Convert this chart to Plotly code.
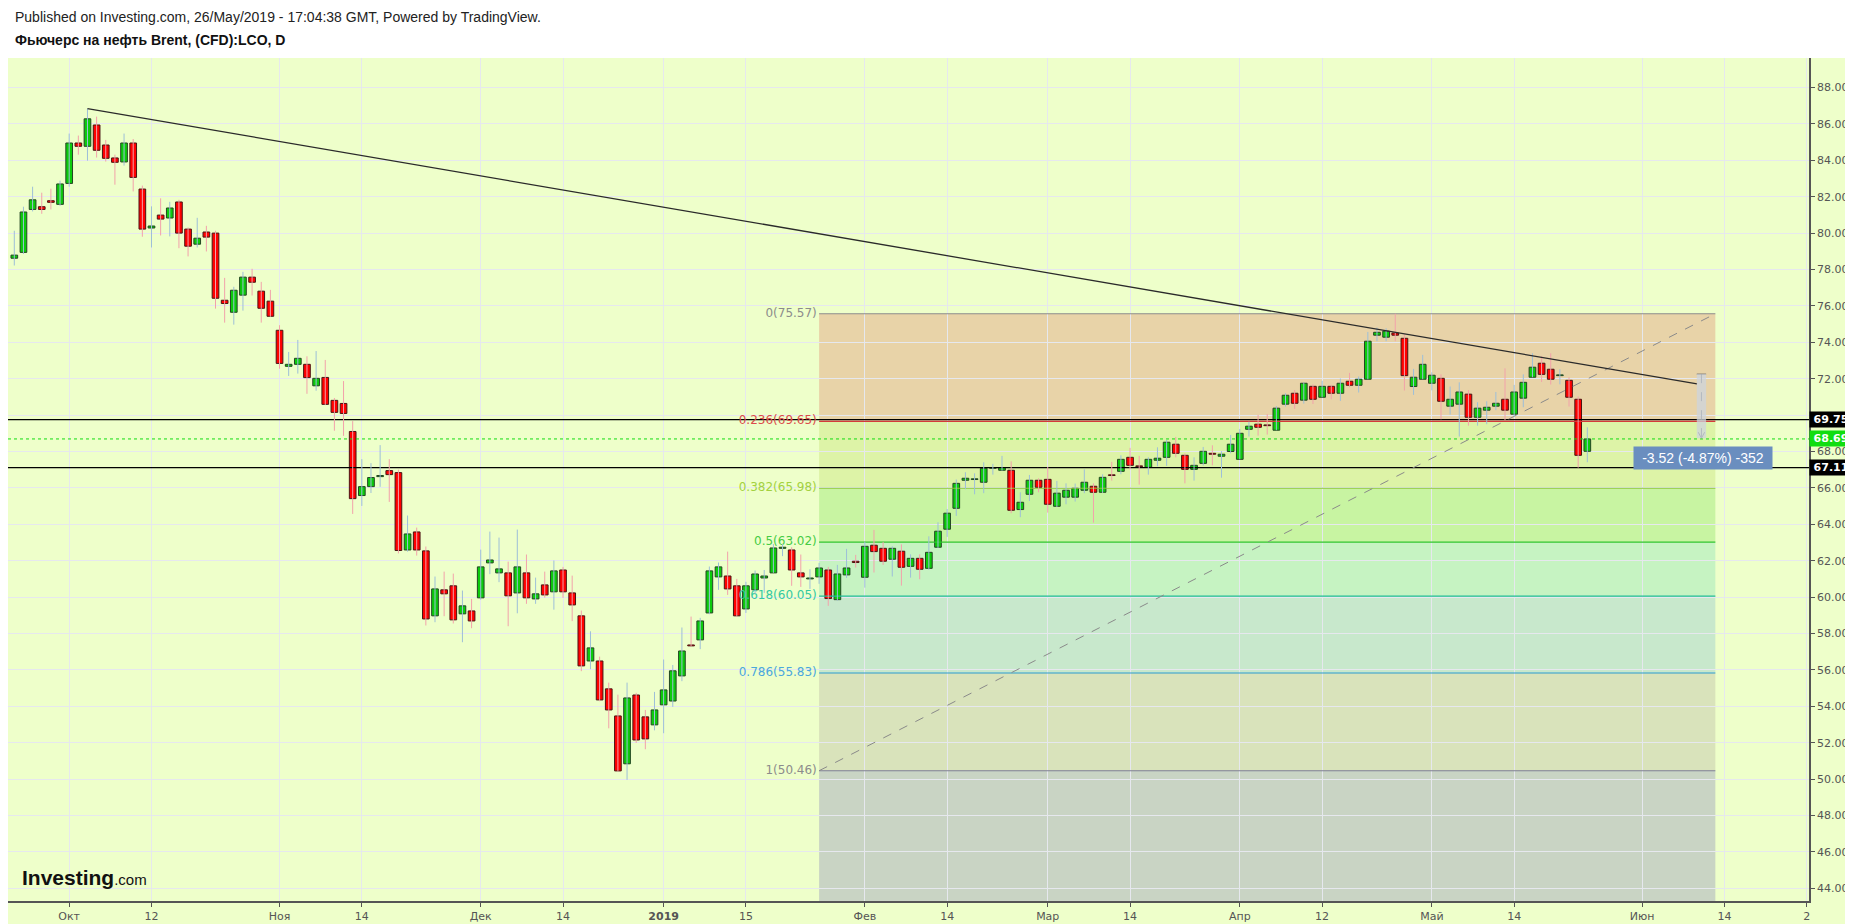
import plotly.graph_objects as go

# ---------------- data (trading-day index 0 = 21 Sep 2018) ----------------
opens = [78.62, 78.94, 81.30, 81.45, 81.78, 81.58, 82.73, 84.95, 84.77, 85.94,
         84.84, 84.13, 83.91, 84.95, 82.42, 80.28, 80.99, 80.83, 81.71, 80.22,
         79.39, 80.06, 80.00, 76.31, 75.65, 76.59, 77.58, 76.81, 76.26, 74.66,
         72.68, 72.79, 72.79, 71.61, 72.07, 70.81, 70.64, 69.10, 65.58, 66.07,
         66.62, 66.95, 66.84, 62.59, 63.58, 62.54, 58.97, 60.40, 60.62, 59.08,
         59.24, 59.96, 61.88, 61.33, 61.33, 60.23, 61.33, 59.90, 60.67, 60.29,
         61.49, 60.23, 58.97, 56.49, 56.49, 54.96, 53.47, 50.84, 54.62, 53.42,
         52.98, 54.08, 54.29, 55.67, 57.37, 57.65, 59.13, 61.11, 61.16, 60.62,
         59.35, 60.40, 61.05, 61.33, 62.68, 62.59, 61.33, 61.00, 61.11, 61.49,
         59.86, 61.22, 61.97, 61.09, 62.85, 62.68, 62.08, 62.52, 61.69, 62.13,
         61.58, 62.74, 63.73, 64.88, 66.42, 66.46, 66.31, 67.08, 66.97, 66.97,
         64.81, 65.65, 66.42, 66.47, 64.99, 65.49, 65.49, 65.87, 66.09, 65.76,
         66.71, 66.91, 67.68, 67.21, 67.13, 67.52, 67.68, 68.40, 67.79, 67.02,
         67.35, 67.90, 67.74, 68.00, 67.57, 69.22, 69.50, 69.46, 69.17, 70.60,
         71.20, 70.82, 71.58, 70.98, 71.58, 71.20, 71.86, 71.64, 71.97, 74.39,
         74.28, 74.51, 74.22, 71.57, 71.97, 71.75, 72.02, 70.49, 70.60, 71.15,
         69.88, 70.27, 70.49, 70.87, 70.05, 70.93, 72.08, 72.85, 72.52, 72.17,
         71.91, 70.87, 68.01]
highs = [80.13, 81.45, 82.55, 82.22, 82.44, 82.88, 85.47, 85.36, 86.83, 86.40,
         85.12, 84.31, 85.47, 85.17, 82.61, 81.47, 81.91, 81.72, 81.83, 80.31,
         80.84, 80.40, 80.13, 77.54, 77.05, 77.87, 78.04, 77.32, 76.88, 74.94,
         73.47, 74.13, 73.23, 73.52, 73.03, 70.94, 71.87, 69.67, 67.58, 67.36,
         68.35, 67.58, 67.00, 64.48, 63.82, 62.78, 61.13, 61.40, 61.29, 60.36,
         59.90, 62.61, 63.60, 63.27, 61.95, 63.71, 62.34, 61.07, 61.40, 62.01,
         61.66, 61.18, 59.26, 58.12, 56.73, 55.30, 54.64, 55.30, 54.74, 53.80,
         54.79, 56.57, 56.27, 58.33, 58.93, 58.86, 61.68, 61.90, 62.50, 61.00,
         60.84, 61.46, 61.49, 62.92, 62.92, 62.74, 62.34, 61.53, 61.88, 61.66,
         61.77, 62.65, 62.32, 63.03, 63.69, 63.03, 62.79, 62.90, 62.35, 62.35,
         63.34, 64.11, 64.84, 66.46, 66.86, 66.80, 67.41, 67.32, 67.76, 67.46,
         65.76, 66.71, 66.53, 67.15, 66.38, 66.25, 66.24, 67.02, 66.25, 66.75,
         67.43, 67.79, 68.20, 67.76, 67.68, 68.23, 68.64, 68.80, 67.90, 67.68,
         68.25, 68.34, 68.01, 68.91, 69.24, 69.64, 70.01, 70.06, 70.50, 71.20,
         71.38, 71.80, 71.69, 71.88, 71.66, 72.01, 72.32, 72.12, 74.57, 74.81,
         74.77, 75.57, 74.44, 72.54, 73.31, 72.35, 72.24, 71.57, 71.80, 71.38,
         70.71, 70.76, 71.27, 72.57, 71.66, 72.24, 73.40, 73.23, 73.40, 72.52,
         72.08, 71.02, 69.33]
lows = [78.22, 78.85, 81.19, 81.06, 81.30, 81.50, 82.55, 84.31, 83.98, 84.15,
        83.93, 82.66, 83.71, 82.29, 79.80, 79.21, 79.87, 79.82, 79.17, 78.72,
        79.21, 78.99, 75.85, 75.08, 74.97, 75.74, 76.57, 75.08, 75.40, 72.55,
        72.15, 72.28, 71.17, 71.34, 70.55, 69.14, 68.86, 64.57, 65.01, 65.72,
        66.06, 65.23, 62.40, 62.50, 62.28, 58.44, 58.62, 58.95, 58.55, 57.52,
        58.29, 59.86, 61.26, 60.82, 58.40, 59.11, 59.63, 59.63, 59.97, 59.31,
        59.96, 58.68, 55.93, 56.04, 54.28, 52.79, 50.41, 49.96, 51.99, 51.64,
        52.68, 52.52, 53.97, 55.38, 57.28, 57.14, 59.06, 60.40, 60.12, 58.91,
        59.13, 60.18, 60.23, 61.33, 62.25, 60.62, 60.56, 60.45, 60.73, 59.52,
        59.81, 61.05, 61.62, 60.52, 61.35, 61.77, 61.13, 60.63, 61.07, 60.98,
        61.50, 62.70, 63.31, 64.46, 65.93, 65.65, 65.71, 66.73, 66.95, 64.61,
        64.39, 65.28, 65.76, 64.64, 64.95, 65.10, 65.25, 65.71, 64.09, 65.72,
        66.40, 66.75, 67.02, 66.18, 66.73, 67.19, 67.21, 67.68, 66.25, 66.40,
        67.23, 67.24, 66.56, 67.90, 67.57, 68.82, 68.87, 68.93, 69.17, 70.47,
        70.34, 70.63, 70.61, 70.98, 70.87, 70.78, 71.53, 71.24, 71.97, 74.06,
        74.06, 74.06, 71.35, 71.11, 71.97, 71.36, 69.77, 70.03, 68.82, 69.42,
        69.42, 69.50, 70.27, 69.72, 69.92, 70.43, 72.08, 71.82, 71.68, 71.69,
        70.47, 67.11, 67.41]
closes = [78.79, 81.16, 81.83, 81.30, 81.69, 82.70, 84.95, 84.77, 86.28, 84.55,
          84.11, 83.89, 84.95, 83.06, 80.22, 80.39, 80.77, 81.38, 80.00, 79.28,
          79.72, 79.78, 76.42, 76.13, 76.86, 77.58, 77.30, 75.87, 75.43, 72.84,
          72.79, 73.12, 72.06, 72.02, 70.59, 70.15, 70.09, 65.41, 66.07, 66.57,
          66.68, 66.73, 62.56, 63.47, 62.59, 58.80, 60.45, 60.18, 58.75, 59.52,
          58.69, 61.66, 62.04, 61.55, 60.07, 61.66, 59.96, 60.18, 60.12, 61.44,
          60.29, 59.57, 56.22, 57.21, 54.35, 53.80, 50.45, 54.46, 52.15, 52.21,
          53.80, 54.90, 55.95, 57.04, 57.32, 58.69, 61.44, 61.66, 60.45, 58.97,
          60.62, 61.27, 61.16, 62.70, 62.74, 61.49, 61.11, 61.05, 61.60, 59.92,
          61.27, 61.60, 61.90, 62.79, 62.50, 61.97, 62.68, 61.64, 62.13, 61.53,
          62.46, 63.62, 64.61, 66.25, 66.53, 66.49, 67.08, 67.12, 67.12, 64.77,
          65.21, 66.42, 66.03, 65.10, 65.71, 65.87, 65.98, 66.31, 65.76, 66.58,
          66.68, 67.57, 67.24, 67.17, 67.57, 67.63, 68.51, 67.90, 67.02, 67.24,
          68.01, 67.85, 67.85, 68.40, 69.00, 69.39, 69.33, 69.42, 70.38, 71.09,
          70.65, 71.75, 70.87, 71.58, 71.20, 71.75, 71.64, 71.97, 74.06, 74.55,
          74.61, 74.39, 72.17, 72.08, 72.79, 72.19, 70.76, 70.87, 71.27, 69.88,
          70.38, 70.43, 70.65, 70.27, 71.27, 71.80, 72.63, 72.24, 71.97, 72.21,
          70.98, 67.79, 68.69]

tick_idx = [6, 15, 29, 38, 51, 60, 71, 80, 93, 102, 113, 122, 134, 143, 155, 164, 178, 187, 196]
tick_text = ["Окт", "12", "Ноя", "14", "Дек", "14", "<b>2019</b>", "15", "Фев", "14",
             "Мар", "14", "Апр", "12", "Май", "14", "Июн", "14", "2"]

price_ticks = [44, 46, 48, 50, 52, 54, 56, 58, 60, 62, 64, 66, 68, 70, 72, 74, 76, 78, 80, 82, 84, 86, 88]
price_tick_text = ["44.00", "46.00", "48.00", "50.00", "52.00", "54.00", "56.00", "58.00", "60.00",
                   "62.00", "64.00", "66.00", "68.00", "", "72.00", "74.00", "76.00", "78.00",
                   "80.00", "82.00", "84.00", "86.00", "88.00"]   # 70.00 hidden under the 69.75 price tag

fib_ratio = ["0", "0.236", "0.382", "0.5", "0.618", "0.786", "1"]
fib_price = [75.57, 69.65, 65.98, 63.02, 60.05, 55.83, 50.46]
fib_ext_price = 34.94          # 1.618 level (below visible range)
fib_x = [88, 186]

trend_x = [8, 184]
trend_y = [86.84, 71.71]

level_hi = 69.75
level_lo = 67.11
last_price = 68.69

measure_x = [183.97, 184.99]
measure_y = [72.25, 68.73]
measure_text = "-3.52 (-4.87%) -352"

# ---------------- styling ----------------
BG = "#EEFFCA"
GRID = "#E6E8EE"
UP_FILL, UP_EDGE, UP_WICK = "#0CCB0C", "#234523", "#9DBFD8"
DN_FILL, DN_EDGE, DN_WICK = "#FF0000", "#4A1414", "#F2A2AA"
fib_line_col = ["#8C8C8C", "#D43A3A", "#8CC63A", "#2FC42F", "#22BC98", "#2C9BD0", "#7E7E96"]
fib_txt_col = ["#8C8C8C", "#DB4B4B", "#A3D13F", "#45CC45", "#33C9A2", "#4AA7DD", "#8C8C8C"]
fib_fill_col = ["#E8D3A8", "#DDF3A7", "#C8F4A2", "#C6F3C2", "#C8E8CC", "#D9E3BB", "#C9D4C4"]

n = len(opens)
idx = list(range(n))
up = [i for i in idx if closes[i] >= opens[i]]
dn = [i for i in idx if closes[i] < opens[i]]

fig = go.Figure()

X0, X1 = -0.69, 196.24
Y0, Y1 = 43.302, 89.621

# horizontal reference lines (under candles)
fig.add_trace(go.Scatter(x=[X0, X1], y=[level_hi, level_hi], mode="lines",
                         line=dict(color="#000000", width=1.2), hoverinfo="skip"))
fig.add_trace(go.Scatter(x=[X0, X1], y=[level_lo, level_lo], mode="lines",
                         line=dict(color="#000000", width=1.2), hoverinfo="skip"))
fig.add_trace(go.Scatter(x=[X0, X1], y=[last_price, last_price], mode="lines",
                         line=dict(color="#11DD11", width=1, dash="dot"), hoverinfo="skip"))

# fib level lines
for p, c in zip(fib_price, fib_line_col):
    fig.add_trace(go.Scatter(x=fib_x, y=[p, p], mode="lines",
                             line=dict(color=c, width=1.2), hoverinfo="skip"))
# fib labels (drawn under candles)
fig.add_trace(go.Scatter(
    x=[fib_x[0] - 0.25] * len(fib_price), y=fib_price, mode="text",
    text=[f"{r}({p:.2f})" for r, p in zip(fib_ratio, fib_price)],
    textposition="middle left",
    textfont=dict(family="DejaVu Sans", size=12, color=fib_txt_col),
    hoverinfo="skip"))

# fib diagonal
fig.add_trace(go.Scatter(x=fib_x, y=[fib_price[-1], fib_price[0]], mode="lines",
                         line=dict(color="#8A8A8A", width=1, dash="dash"), hoverinfo="skip"))

# wicks
def wick_xy(ids):
    xs, ys = [], []
    for i in ids:
        xs += [i, i, None]
        ys += [lows[i], highs[i], None]
    return xs, ys

wx, wy = wick_xy(up)
fig.add_trace(go.Scatter(x=wx, y=wy, mode="lines", line=dict(color=UP_WICK, width=1), hoverinfo="skip"))
wx, wy = wick_xy(dn)
fig.add_trace(go.Scatter(x=wx, y=wy, mode="lines", line=dict(color=DN_WICK, width=1), hoverinfo="skip"))

# bodies
def body(ids):
    base = [min(opens[i], closes[i]) for i in ids]
    h = [max(abs(closes[i] - opens[i]), 0.04) for i in ids]
    return base, h

b, h = body(up)
fig.add_trace(go.Bar(x=up, y=h, base=b, width=0.73,
                     marker=dict(color=UP_FILL, line=dict(color=UP_EDGE, width=1)), hoverinfo="skip"))
b, h = body(dn)
fig.add_trace(go.Bar(x=dn, y=h, base=b, width=0.73,
                     marker=dict(color=DN_FILL, line=dict(color=DN_EDGE, width=1)), hoverinfo="skip"))

# trend line
fig.add_trace(go.Scatter(x=trend_x, y=trend_y, mode="lines",
                         line=dict(color="#2A2A2A", width=1.3), hoverinfo="skip"))

# measure tool
mx_c = (measure_x[0] + measure_x[1]) / 2
fig.add_shape(type="rect", x0=measure_x[0], x1=measure_x[1], y0=measure_y[1], y1=measure_y[0],
              fillcolor="rgba(205,212,222,0.75)", line=dict(width=0), layer="above")
fig.add_trace(go.Scatter(x=[measure_x[0], measure_x[1]], y=[measure_y[0]] * 2, mode="lines",
                         line=dict(color="#666666", width=1), hoverinfo="skip"))
fig.add_trace(go.Scatter(x=[mx_c, mx_c], y=measure_y, mode="lines",
                         line=dict(color="#666666", width=1, dash="dash"), hoverinfo="skip"))
fig.add_trace(go.Scatter(x=[mx_c - 0.35, mx_c, mx_c + 0.35],
                         y=[measure_y[1] + 0.33, measure_y[1], measure_y[1] + 0.33], mode="lines",
                         line=dict(color="#666666", width=1), hoverinfo="skip"))

# fib background bands
bands = fib_price + [fib_ext_price]
for k in range(len(fib_fill_col)):
    fig.add_shape(type="rect", x0=fib_x[0], x1=fib_x[1], y0=bands[k + 1], y1=bands[k],
                  fillcolor=fib_fill_col[k], line=dict(width=0), layer="below")

# white header strip
fig.add_shape(type="rect", xref="paper", yref="paper", x0=-0.01, x1=1.03, y0=1.0, y1=1.08,
              fillcolor="white", line=dict(width=0), layer="below")

# page is offset 8px by the HTML body margin: figure is 1845x916, plot box 8..1809 x 58..901 on screen
H_PLOT = 843.0
ann = []
ann.append(dict(xref="paper", yref="paper", x=0, xshift=5, y=1 + (50 - 9.5) / H_PLOT, yanchor="middle",
                xanchor="left", showarrow=False,
                text="Published on Investing.com, 26/May/2019 - 17:04:38 GMT, Powered by TradingView.",
                font=dict(family="Liberation Sans", size=14, color="#222222")))
ann.append(dict(xref="paper", yref="paper", x=0, xshift=5, y=1 + (50 - 32) / H_PLOT, yanchor="middle",
                xanchor="left", showarrow=False,
                text="<b>Фьючерс на нефть Brent, (CFD):LCO, D</b>",
                font=dict(family="Liberation Sans", size=14, color="#111111")))
ann.append(dict(xref="paper", yref="y", x=0, xshift=12, y=44.6, xanchor="left", yanchor="middle",
                showarrow=False,
                text="<b>Investing</b><span style='font-size:15px'>.com</span>",
                font=dict(family="Liberation Sans", size=21, color="#111111")))
for val, col in [(level_hi, "#000000"), (last_price, "#11DD11"), (level_lo, "#000000")]:
    ann.append(dict(xref="paper", yref="y", x=1, xshift=0, y=val, xanchor="left", yanchor="middle",
                    showarrow=False, text=f"<b>{val:.2f}</b>", bgcolor=col, borderpad=1, width=40,
                    align="center", font=dict(family="DejaVu Sans", size=11, color="white")))
ann.append(dict(xref="x", yref="y", x=184.6, y=67.67, showarrow=False, text=measure_text,
                bgcolor="#6A8EBF", borderpad=3, width=132, align="center",
                font=dict(family="Liberation Sans", size=14, color="white")))

fig.update_layout(
    width=1845, height=916,
    margin=dict(l=0, r=44, t=50, b=23),
    paper_bgcolor=BG, plot_bgcolor=BG,
    showlegend=False, barmode="overlay",
    annotations=ann,
    xaxis=dict(range=[X0, X1], tickmode="array", tickvals=tick_idx, ticktext=tick_text,
               showgrid=True, gridcolor=GRID, gridwidth=1, zeroline=False,
               showline=True, linecolor="#555555", linewidth=1.5,
               ticks="outside", ticklen=4, tickcolor="#555555",
               tickfont=dict(family="DejaVu Sans", size=11, color="#555555")),
    yaxis=dict(range=[Y0, Y1], side="right", tickmode="array", tickvals=price_ticks,
               ticktext=price_tick_text,
               showgrid=True, gridcolor=GRID, gridwidth=1, zeroline=False,
               showline=True, linecolor="#555555", linewidth=1.5,
               ticks="outside", ticklen=4, tickcolor="#555555",
               tickfont=dict(family="DejaVu Sans", size=11, color="#555555")),
)

fig.write_html("out.html")
